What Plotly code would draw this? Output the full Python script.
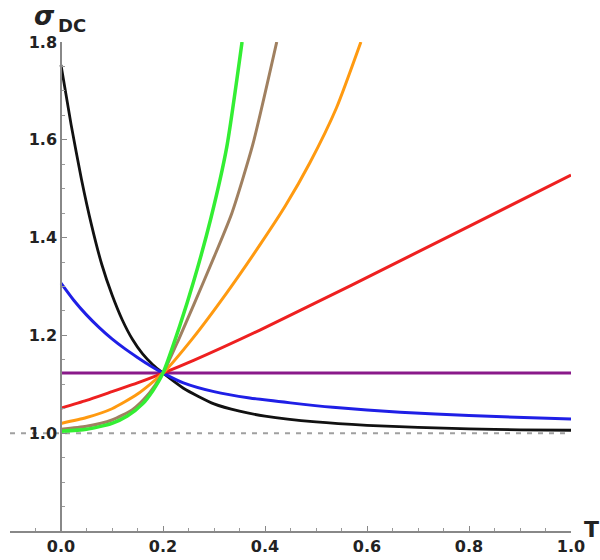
import plotly.graph_objects as go

# ---- data ----
T_black = [0, 0.02, 0.04, 0.06, 0.08, 0.1, 0.12, 0.14, 0.16, 0.18, 0.2, 0.24, 0.3, 0.35, 0.4, 0.5, 0.6, 0.7, 0.8, 0.9, 1.0]
S_black = [1.753, 1.63, 1.52, 1.425, 1.345, 1.283, 1.232, 1.192, 1.162, 1.14, 1.123, 1.092, 1.06, 1.045, 1.035, 1.023, 1.016, 1.012, 1.009, 1.007, 1.006]

T_blue = [0, 0.025, 0.05, 0.075, 0.1, 0.125, 0.15, 0.175, 0.2, 0.24, 0.3, 0.37, 0.45, 0.533, 0.665, 0.8, 1.0]
S_blue = [1.307, 1.272, 1.242, 1.216, 1.193, 1.173, 1.155, 1.138, 1.123, 1.103, 1.085, 1.072, 1.062, 1.053, 1.043, 1.036, 1.029]

T_red = [0, 0.05, 0.1, 0.15, 0.2, 0.26, 0.39, 0.57, 0.8, 1.0]
S_red = [1.051, 1.067, 1.085, 1.103, 1.123, 1.149, 1.211, 1.303, 1.423, 1.528]

T_orange = [0, 0.05, 0.1, 0.15, 0.2, 0.259, 0.325, 0.39, 0.44, 0.488, 0.54, 0.588]
S_orange = [1.02, 1.032, 1.05, 1.08, 1.123, 1.195, 1.287, 1.385, 1.465, 1.553, 1.665, 1.8]

T_brown = [0, 0.05, 0.1, 0.14, 0.17, 0.2, 0.23, 0.26, 0.3, 0.335, 0.376, 0.423]
S_brown = [1.008, 1.014, 1.027, 1.048, 1.078, 1.123, 1.19, 1.262, 1.36, 1.45, 1.59, 1.8]

T_green = [0, 0.05, 0.1, 0.13, 0.16, 0.18, 0.2, 0.233, 0.26, 0.294, 0.325, 0.355]
S_green = [1.004, 1.008, 1.02, 1.035, 1.06, 1.087, 1.123, 1.22, 1.31, 1.44, 1.585, 1.8]

T_purple = [0, 1.0]
S_purple = [1.123, 1.123]

ref_x = [-0.1, 1.0]
ref_y = [1.0, 1.0]

x_ticks = [0.0, 0.2, 0.4, 0.6, 0.8, 1.0]
x_labels = ["0.0", "0.2", "0.4", "0.6", "0.8", "1.0"]
y_ticks = [1.0, 1.2, 1.4, 1.6, 1.8]
y_labels = ["1.0", "1.2", "1.4", "1.6", "1.8"]

FONT = "DejaVu Sans"

fig = go.Figure()
fig.add_trace(go.Scatter(x=ref_x, y=ref_y, mode="lines",
                         line=dict(color="#a0a0a0", width=2, dash="5px,6px")))

series = [
    (T_purple, S_purple, "#8a1a8a", 3),
    (T_black, S_black, "#111111", 2.8),
    (T_blue, S_blue, "#1f1fe6", 3),
    (T_red, S_red, "#ee2020", 3),
    (T_orange, S_orange, "#ff9a10", 3),
    (T_brown, S_brown, "#a08060", 3),
    (T_green, S_green, "#33ee33", 3.5),
]
for tx, sy, col, w in series:
    fig.add_trace(go.Scatter(x=tx, y=sy, mode="lines",
                             line=dict(color=col, width=w, shape="spline", smoothing=0.6)))

W, H = 600, 560
L, R, TOP, B = 10, 29, 42, 29

fig.update_layout(
    width=W, height=H,
    margin=dict(l=L, r=R, t=TOP, b=B, pad=0, autoexpand=False),
    paper_bgcolor="white", plot_bgcolor="white",
    showlegend=False,
    font=dict(family=FONT, size=16, color="#222"),
    xaxis=dict(range=[-0.1, 1.0], tickvals=x_ticks, ticktext=x_labels,
               automargin=False,
               showgrid=False, zeroline=False, showline=True,
               linecolor="#888", linewidth=1.5,
               ticks="inside", ticklen=5, tickcolor="#888", tickwidth=1,
               tickfont=dict(family=FONT, size=16, weight="bold", color="#222"),
               minor=dict(dtick=0.05, tick0=0, ticks="inside", ticklen=3,
                          tickcolor="#999", showgrid=False),
               anchor="y"),
    yaxis=dict(range=[0.8, 1.8], tickvals=y_ticks, ticktext=y_labels,
               automargin=False,
               showgrid=False, zeroline=False, showline=True,
               linecolor="#888", linewidth=1.5,
               ticks="inside", ticklen=5, tickcolor="#888", tickwidth=1,
               tickfont=dict(family=FONT, size=16, weight="bold", color="#222"),
               minor=dict(dtick=0.05, tick0=0, ticks="inside", ticklen=3,
                          tickcolor="#999", showgrid=False),
               anchor="free", position=0.1 / 1.1),
)

pw = W - L - R
ph = H - TOP - B
def px2paper(px, py):
    return (px - L) / pw, (H - B - py) / ph

sx, sy_ = px2paper(44, 16)
fig.add_annotation(x=sx, y=sy_, xref="paper", yref="paper", text="<b><i>σ</i></b>",
                   showarrow=False, xanchor="center", yanchor="middle",
                   font=dict(family=FONT, size=26, color="#222"))
dx, dy = px2paper(72, 25)
fig.add_annotation(x=dx, y=dy, xref="paper", yref="paper", text="<b>DC</b>",
                   showarrow=False, xanchor="center", yanchor="middle",
                   font=dict(family=FONT, size=18, color="#222"))
tx_, ty_ = px2paper(591, 529)
fig.add_annotation(x=tx_, y=ty_, xref="paper", yref="paper", text="<b>T</b>",
                   showarrow=False, xanchor="center", yanchor="middle",
                   font=dict(family=FONT, size=22, color="#222"))

fig.write_html("out.html")
